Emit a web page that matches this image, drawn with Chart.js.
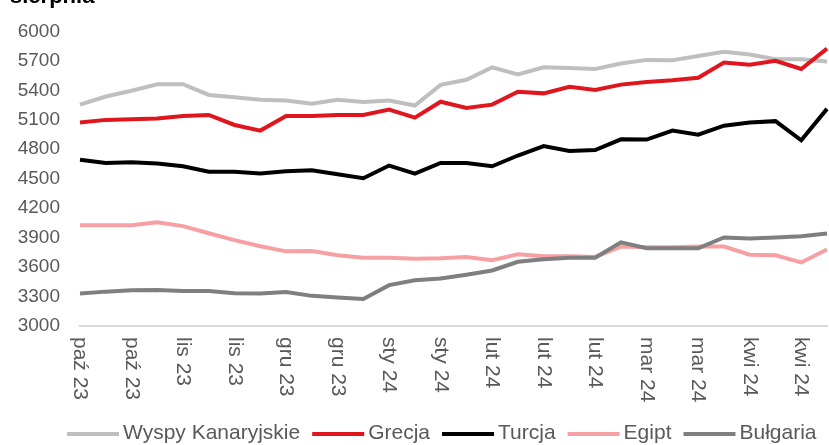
<!DOCTYPE html>
<html>
<head>
<meta charset="utf-8">
<script src="https://cdn.jsdelivr.net/npm/chart.js@4/dist/chart.umd.min.js"></script>
<style>
  html, body { margin: 0; padding: 0; background: #fff; overflow: hidden; }
</style>
</head>
<body>
<canvas id="chart" width="829" height="445"></canvas>
<script>
/* ---------- data ---------- */

const labels = [
    "paź 23", "paź 23", "paź 23", "paź 23",
    "lis 23", "lis 23", "lis 23", "lis 23",
    "gru 23", "gru 23", "gru 23", "gru 23",
    "sty 24", "sty 24", "sty 24", "sty 24",
    "lut 24", "lut 24", "lut 24", "lut 24", "lut 24",
    "mar 24", "mar 24", "mar 24", "mar 24",
    "kwi 24", "kwi 24", "kwi 24", "kwi 24", "kwi 24"
];

const wyspy = [5255, 5337, 5396, 5462, 5462, 5353, 5330, 5304, 5297, 5264, 5304, 5280, 5297, 5245, 5456,
               5508, 5634, 5561, 5634, 5627, 5617, 5673, 5710, 5706, 5750, 5792, 5765, 5716, 5716, 5693];
const grecja = [5072, 5099, 5106, 5112, 5139, 5149, 5047, 4990, 5139, 5139, 5149, 5149, 5205, 5122, 5284,
                5221, 5254, 5386, 5369, 5436, 5403, 5458, 5485, 5502, 5528, 5683, 5660, 5700, 5617, 5825];
const turcja = [4693, 4660, 4667, 4654, 4627, 4571, 4571, 4552, 4577, 4587, 4545, 4505, 4634, 4552, 4660,
                4660, 4627, 4736, 4832, 4782, 4792, 4901, 4898, 4990, 4948, 5040, 5072, 5086, 4891, 5211];
const egipt = [4027, 4027, 4027, 4057, 4017, 3944, 3874, 3812, 3760, 3763, 3720, 3696, 3696, 3686, 3690,
               3703, 3670, 3730, 3710, 3710, 3703, 3809, 3802, 3802, 3809, 3809, 3726, 3720, 3647, 3779];
const bulgaria = [3330, 3350, 3364, 3367, 3357, 3357, 3334, 3330, 3347, 3307, 3290, 3274, 3416, 3466, 3483,
                  3522, 3565, 3654, 3680, 3696, 3696, 3852, 3792, 3792, 3792, 3901, 3891, 3901, 3914, 3941];

const seriesNames = ["Wyspy Kanaryjskie", "Grecja", "Turcja", "Egipt", "Bułgaria"];
const yTicks = [3000, 3300, 3600, 3900, 4200, 4500, 4800, 5100, 5400, 5700, 6000];
const titleText = "sierpnia";

/* ---------- styles ---------- */

const colors = ["#bfbfbf", "#e0161f", "#000000", "#f6a0a3", "#7f7f7f"];
const textGray = "#595959";
const fontFamily = "'Liberation Sans', Arial, sans-serif";

function makeSet(i, data) {
    return {
        label: seriesNames[i],
        data: data,
        borderColor: colors[i],
        backgroundColor: colors[i],
        borderWidth: 4,
        pointRadius: 0,
        tension: 0,
        order: 5 - i
    };
}

/* ---------- plugins ---------- */

// title line cut at the top, vertical (clockwise) x labels, legend row
const extrasPlugin = {
    id: "extras",
    afterDraw(chart) {
        const ctx = chart.ctx;
        const xs = chart.scales.x;

        ctx.save();
        ctx.fillStyle = "#000";
        ctx.font = "bold 22px " + fontFamily;
        ctx.textBaseline = "alphabetic";
        ctx.textAlign = "left";
        ctx.fillText(titleText, 10, 3);
        ctx.restore();

        ctx.save();
        ctx.fillStyle = textGray;
        ctx.font = "21px " + fontFamily;
        ctx.textAlign = "left";
        ctx.textBaseline = "middle";
        labels.forEach((lab, i) => {
            if (i % 2 !== 0) return;
            const x = xs.getPixelForValue(i);
            ctx.save();
            ctx.translate(x, chart.chartArea.bottom + 11);
            ctx.rotate(Math.PI / 2);
            ctx.fillText(lab, 0, 0);
            ctx.restore();
        });
        ctx.restore();

        // legend
        ctx.save();
        ctx.font = "21px " + fontFamily;
        ctx.textBaseline = "middle";
        ctx.textAlign = "left";
        let x = 67;
        const y = 433;
        chart.data.datasets.forEach(ds => {
            ctx.strokeStyle = ds.borderColor;
            ctx.lineWidth = 4;
            ctx.beginPath();
            ctx.moveTo(x, y + 1);
            ctx.lineTo(x + 52, y + 1);
            ctx.stroke();
            x += 56;
            ctx.fillStyle = textGray;
            ctx.fillText(ds.label, x, y);
            x += ctx.measureText(ds.label).width + 12;
        });
        ctx.restore();
    }
};

/* ---------- chart ---------- */

new Chart(document.getElementById("chart"), {
    type: "line",
    data: {
        labels: labels,
        datasets: [
            makeSet(0, wyspy),
            makeSet(1, grecja),
            makeSet(2, turcja),
            makeSet(3, egipt),
            makeSet(4, bulgaria)
        ]
    },
    options: {
        responsive: false,
        animation: false,
        layout: { padding: { top: 23, right: 2, left: 0, bottom: 0 } },
        plugins: {
            title: { display: false },
            tooltip: { enabled: false },
            legend: { display: false }
        },
        scales: {
            x: {
                grid: { display: false },
                border: { display: true, color: "#d9d9d9", width: 2 },
                ticks: { display: false },
                afterFit(scale) { scale.height = 119; }
            },
            y: {
                min: 3000,
                max: 6000,
                grid: { display: false, drawTicks: false },
                border: { display: false },
                afterBuildTicks(scale) {
                    scale.ticks = yTicks.map(v => ({ value: v }));
                },
                afterFit(scale) { scale.width = 80; },
                ticks: {
                    padding: 20,
                    color: textGray,
                    font: { family: fontFamily, size: 19 },
                    callback: v => String(v)
                }
            }
        }
    },
    plugins: [extrasPlugin]
});
</script>
</body>
</html>
